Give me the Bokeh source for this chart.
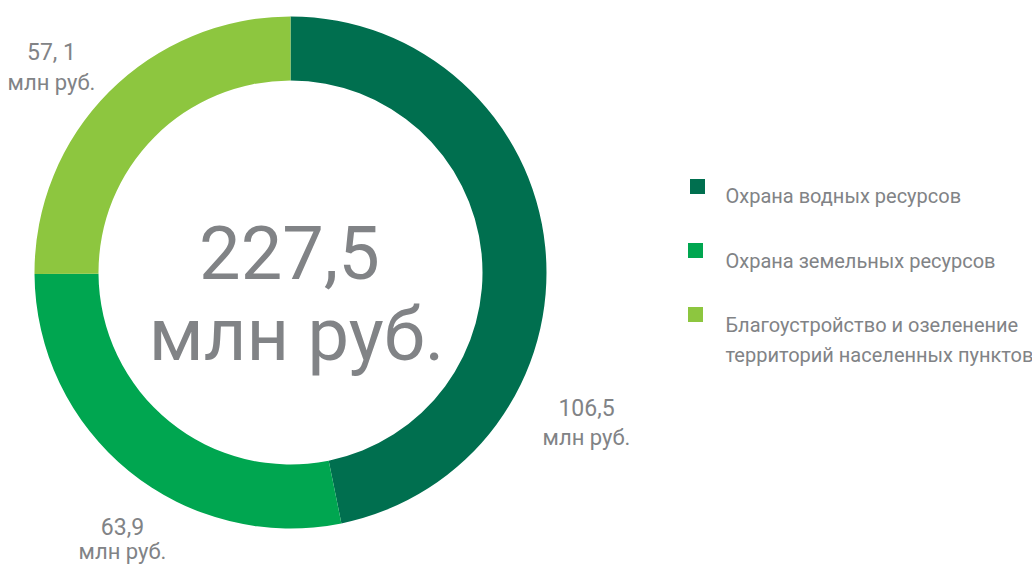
import numpy as np
from bokeh.plotting import figure
from bokeh.models import Range1d
from bokeh.core.properties import value
from bokeh.embed import file_html
from bokeh.resources import INLINE

categories = ["Охрана водных ресурсов", "Охрана земельных ресурсов",
              "Благоустройство и озеленение территорий населенных пунктов"]
legend_labels = ["Охрана водных ресурсов", "Охрана земельных ресурсов",
                 "Благоустройство и озеленение", "территорий населенных пунктов"]
values = [106.5, 63.9, 57.1]
value_labels = ["106,5", "63,9", "57, 1"]
unit_label = "млн руб."
total_label = "227,5"
colors = ["#006F4F", "#00A650", "#8DC63F"]

FONT = value("Roboto")
GRAY = "#818386"

W, H = 1032, 567
p = figure(width=W, height=H, output_backend="svg", toolbar_location=None,
           x_range=Range1d(0, W), y_range=Range1d(-H, 0),
           min_border=0)
p.axis.visible = False
p.grid.visible = False
p.outline_line_color = None
p.background_fill_color = "white"

cx, cy = 290, -272
r_out, r_in = 256, 192

vals = np.array(values)
frac = vals / vals.sum()
cum = np.concatenate([[0], np.cumsum(frac)])
start = np.pi / 2 - 2 * np.pi * cum[:-1]
end = np.pi / 2 - 2 * np.pi * cum[1:]
p.annular_wedge(x=cx, y=cy, inner_radius=r_in, outer_radius=r_out,
                start_angle=start, end_angle=end, direction="clock",
                fill_color=colors, line_color=None)

# center total
p.text(x=[289], y=[-252], text=[total_label], text_font=FONT,
       text_font_size="74px", text_color=GRAY, text_align="center",
       text_baseline="alphabetic")
p.text(x=[296], y=[-334], text=[unit_label], text_font=FONT,
       text_font_size="74px", text_color=GRAY, text_align="center",
       text_baseline="alphabetic")

# value labels
lab_x = [586, 122, 51]
lab_y1 = [-407, -526, -52]
lab_y2 = [-437, -551, -82]
p.text(x=lab_x, y=lab_y1, text=value_labels, text_font=FONT,
       text_font_size="23px", text_color=GRAY, text_align="center",
       text_baseline="alphabetic")
p.text(x=lab_x, y=lab_y2, text=[unit_label] * 3, text_font=FONT,
       text_font_size="22px", text_color=GRAY, text_align="center",
       text_baseline="alphabetic")

# legend
p.scatter(x=[697, 695, 695], y=[-186, -250, -314], marker="square", size=15,
          fill_color=colors, line_color=None)
p.text(x=[725] * 4, y=[-195, -260, -324, -354], text=legend_labels,
       text_font=FONT, text_font_size="20px", text_color=GRAY,
       text_align="left", text_baseline="alphabetic")

open("out.html", "w").write(file_html(p, INLINE))
